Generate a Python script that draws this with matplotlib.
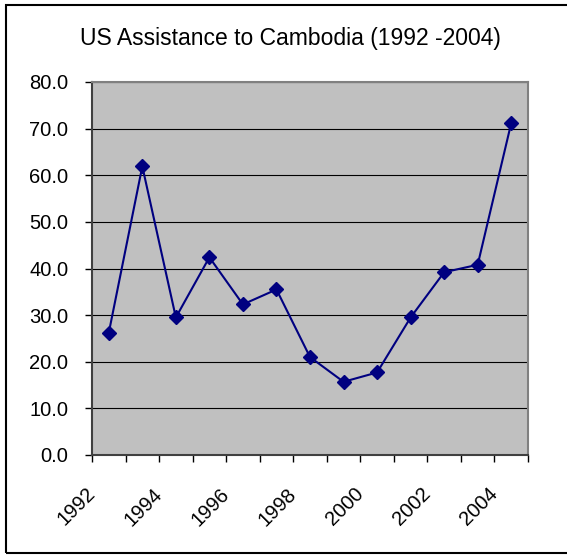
import matplotlib
matplotlib.use("Agg")
import matplotlib.pyplot as plt
import matplotlib.transforms as mtransforms
from matplotlib.patches import Rectangle
from matplotlib.ticker import FormatStrFormatter

years = [1992, 1993, 1994, 1995, 1996, 1997, 1998, 1999, 2000, 2001, 2002, 2003, 2004]
assistance = [26.2, 61.9, 29.5, 42.4, 32.3, 35.5, 21.0, 15.7, 17.7, 29.5, 39.2, 40.8, 71.2]
shown_labels = [1992, 1994, 1996, 1998, 2000, 2002, 2004]

plt.rcParams['font.family'] = ['Liberation Sans', 'DejaVu Sans']

fig = plt.figure(figsize=(5.67, 5.55), dpi=100)
ax = fig.add_axes([92/567, 1-455/555, (528-92)/567, (455-82)/555])
ax.set_facecolor('#C0C0C0')

x = list(range(len(years)))
ax.plot(x, assistance, color='#000080', lw=1.5, marker='D', ms=7, zorder=3)

ax.set_xlim(-0.5, len(years) - 0.5)
ax.set_ylim(0, 80)
ax.set_yticks(range(0, 81, 10))
ax.yaxis.set_major_formatter(FormatStrFormatter('%.1f'))
ax.grid(axis='y', color='black', lw=0.8, zorder=1)
ax.set_axisbelow(True)

# category boundaries get tick marks, every other category gets a label
ax.set_xticks([i - 0.5 for i in range(len(years) + 1)])
ax.set_xticklabels([])
ax.set_xticks([years.index(y) for y in shown_labels], minor=True)
ax.set_xticklabels([str(y) for y in shown_labels], minor=True, rotation=45,
                   ha='right', va='top')
ax.tick_params(axis='x', which='major', length=5, width=1, direction='out')
ax.tick_params(axis='x', which='minor', length=0, pad=21, labelsize=14.5)
ax.tick_params(axis='y', length=5, width=1, pad=12, labelsize=14.5)
offset = mtransforms.ScaledTranslation(-10/100, 0, fig.dpi_scale_trans)
for lab in ax.get_xticklabels(minor=True):
    lab.set_transform(lab.get_transform() + offset)

for side in ['top', 'right']:
    ax.spines[side].set_color('#808080')
    ax.spines[side].set_linewidth(1.5)
for side in ['left', 'bottom']:
    ax.spines[side].set_color('#404040')
    ax.spines[side].set_linewidth(1.5)

fig.text(290/567, 1-38/555, 'US Assistance to Cambodia (1992 -2004)',
         ha='center', va='center', fontsize=16.5)

fig.patches.append(Rectangle((6/567, 1-553/555), 1.2, (553-5)/555,
                             transform=fig.transFigure, fill=False,
                             edgecolor='black', lw=1.5))

fig.savefig('out.png', dpi=100)
